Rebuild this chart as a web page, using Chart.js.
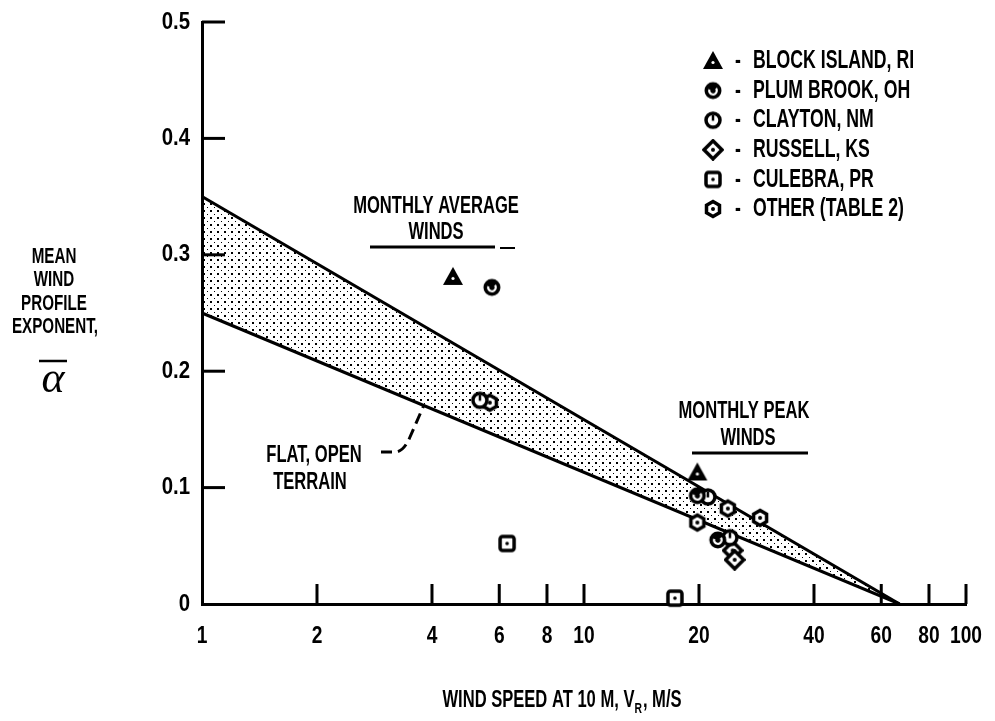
<!DOCTYPE html>
<html>
<head>
<meta charset="utf-8">
<script src="https://cdn.jsdelivr.net/npm/chart.js@4.4.1/dist/chart.umd.min.js"></script>
<style>
  html, body { margin: 0; padding: 0; background: #fff; }
  canvas { display: block; }
</style>
</head>
<body>
<canvas id="chart" width="995" height="721"></canvas>
<script>
// ---- data ----
const xTicks = [1, 2, 4, 6, 8, 10, 20, 40, 60, 80, 100];
const xTickLabels = ['1', '2', '4', '6', '8', '10', '20', '40', '60', '80', '100'];
const yTicks = [0, 0.1, 0.2, 0.3, 0.4, 0.5];
const yTickLabels = ['0', '0.1', '0.2', '0.3', '0.4', '0.5'];

// flat, open terrain band (alpha vs wind speed)
const bandX = [1, 67];
const bandUpper = [0.35, 0];
const bandLower = [0.25, 0];

const blockIslandX = [4.54, 19.8];
const blockIslandY = [0.281, 0.113];
const plumBrookX = [5.74, 19.8, 22.4];
const plumBrookY = [0.272, 0.093, 0.055];
const claytonX = [5.34, 21.1, 24.1];
const claytonY = [0.175, 0.092, 0.057];
const russellX = [24.5, 24.8];
const russellY = [0.046, 0.038];
const culebraX = [6.29, 17.3];
const culebraY = [0.052, 0.005];
const otherX = [5.67, 23.8, 28.9, 19.8];
const otherY = [0.173, 0.082, 0.074, 0.070];

const siteNames = ['BLOCK ISLAND, RI', 'PLUM BROOK, OH', 'CLAYTON, NM', 'RUSSELL, KS', 'CULEBRA, PR', 'OTHER (TABLE 2)'];
const siteMarkers = ['triangle', 'plum', 'clayton', 'russell', 'culebra', 'other'];

// ---- helpers ----
const pts = (xs, ys) => xs.map((x, i) => ({ x: x, y: ys[i] }));

function makeMarker(kind) {
    const s = 22, m = s / 2;
    const c = document.createElement('canvas');
    c.width = c.height = s;
    const g = c.getContext('2d');
    g.lineWidth = 3.5;
    g.strokeStyle = '#000';
    g.fillStyle = '#fff';
    const dot = (r) => { g.fillStyle = '#000'; g.beginPath(); g.arc(m, m, r, 0, Math.PI * 2); g.fill(); };
    if (kind === 'triangle') {
        g.fillStyle = '#000';
        g.beginPath(); g.moveTo(m, 1); g.lineTo(s - 1, s - 3); g.lineTo(1, s - 3); g.closePath(); g.fill();
        g.fillStyle = '#fff';
        g.beginPath(); g.arc(m, 12.5, 1.6, 0, Math.PI * 2); g.fill();
    } else if (kind === 'plum') {
        g.fillStyle = '#000';
        g.beginPath(); g.arc(m, m, 8.5, 0, Math.PI * 2); g.fill();
        g.strokeStyle = '#fff'; g.lineWidth = 2.2;
        g.beginPath(); g.arc(m, m, 3.8, -0.2 * Math.PI, 1.1 * Math.PI); g.stroke();
    } else if (kind === 'clayton') {
        g.beginPath(); g.arc(m, m, 7, 0, Math.PI * 2); g.fill(); g.stroke();
        g.lineWidth = 2.5;
        g.beginPath(); g.moveTo(m, m - 5); g.lineTo(m, m + 0.5); g.stroke();
    } else if (kind === 'russell') {
        g.beginPath(); g.moveTo(m, 2); g.lineTo(s - 2, m); g.lineTo(m, s - 2); g.lineTo(2, m); g.closePath();
        g.fill(); g.stroke();
        dot(2);
    } else if (kind === 'culebra') {
        g.beginPath(); g.roundRect(4, 4, s - 8, s - 8, 2.5); g.fill(); g.stroke();
        dot(1.8);
    } else {
        g.beginPath();
        for (let i = 0; i < 6; i++) {
            const a = Math.PI / 6 + i * Math.PI / 3;
            g.lineTo(m + 7.5 * Math.cos(a), m + 7.5 * Math.sin(a));
        }
        g.closePath(); g.fill(); g.stroke();
        dot(2);
    }
    return c;
}
const markers = {};
siteMarkers.forEach(k => markers[k] = makeMarker(k));

function stipple() {
    const c = document.createElement('canvas');
    c.width = c.height = 7;
    const g = c.getContext('2d');
    g.fillStyle = '#000';
    g.fillRect(0, 0, 2, 2);
    g.fillRect(4, 4, 1, 1);
    return g.createPattern(c, 'repeat');
}

const FONT = '"Liberation Sans", Arial, sans-serif';

// condensed typewriter-ish lettering
function txt(ctx, s, x, y, opt) {
    opt = opt || {};
    ctx.save();
    ctx.font = opt.font || ('bold ' + (opt.size || 24) + 'px ' + FONT);
    ctx.fillStyle = '#000';
    ctx.textBaseline = 'middle';
    ctx.textAlign = opt.align || 'center';
    ctx.translate(x, y);
    ctx.scale(opt.sx || 0.69, 1);
    ctx.fillText(s, 0, 0);
    ctx.restore();
}

function txtWidth(ctx, s, size, sx) {
    ctx.save();
    ctx.font = 'bold ' + size + 'px ' + FONT;
    const w = ctx.measureText(s).width * sx;
    ctx.restore();
    return w;
}

function hline(ctx, x1, x2, y, w) {
    ctx.beginPath(); ctx.moveTo(x1, y); ctx.lineTo(x2, y);
    ctx.lineWidth = w || 3; ctx.strokeStyle = '#000'; ctx.stroke();
}

// ticks, labels, legend and notes
const decorPlugin = {
    id: 'decor',
    afterDraw(chart) {
        const ctx = chart.ctx;
        const xs = chart.scales.x, ys = chart.scales.y;
        const area = chart.chartArea;

        ctx.save();
        ctx.strokeStyle = '#000';
        ctx.lineWidth = 3;
        // inward tick marks
        xTicks.forEach((v, i) => {
            const px = xs.getPixelForValue(v);
            if (i > 0) {
                ctx.beginPath(); ctx.moveTo(px, area.bottom); ctx.lineTo(px, area.bottom - 20); ctx.stroke();
            }
            txt(ctx, xTickLabels[i], px, area.bottom + 32, { sx: 0.8 });
        });
        yTicks.forEach((v, i) => {
            const py = ys.getPixelForValue(v);
            if (i > 0) hline(ctx, area.left, area.left + 23, py);
            txt(ctx, yTickLabels[i], area.left - 12, py, { sx: 0.85, align: 'right' });
        });

        // y title
        txt(ctx, 'MEAN', 54, 257, { size: 22 });
        txt(ctx, 'WIND', 54, 280, { size: 22 });
        txt(ctx, 'PROFILE', 54, 304, { size: 22 });
        txt(ctx, 'EXPONENT,', 55, 327, { size: 22 });
        txt(ctx, 'α', 53, 380, { font: 'italic 44px "Liberation Serif", serif', sx: 1 });
        hline(ctx, 39, 67, 361, 2.5);

        // x title with subscript R
        const runs = [['WIND SPEED AT 10 M, V', 24, 0], ['R', 15, 9], [', M/S', 24, 0]];
        const widths = runs.map(r => txtWidth(ctx, r[0], r[1], 0.69) + (r[0] === 'R' ? 1 : 0));
        let x0 = 562 - widths.reduce((a, b) => a + b, 0) / 2;
        runs.forEach((r, i) => {
            txt(ctx, r[0], x0, 700 + r[2], { size: r[1], align: 'left' });
            x0 += widths[i];
        });

        // legend
        siteNames.forEach((name, i) => {
            const ry = 61 + i * 29.6;
            ctx.drawImage(markers[siteMarkers[i]], 713 - 11, ry - 11);
            txt(ctx, '-', 738, ry, { size: 26, sx: 0.68 });
            txt(ctx, name, 753, ry, { size: 26, sx: 0.68, align: 'left' });
        });

        // notes
        txt(ctx, 'MONTHLY AVERAGE', 436, 206);
        txt(ctx, 'WINDS', 436, 232);
        hline(ctx, 370, 495, 247);
        hline(ctx, 500, 515, 248, 2);

        txt(ctx, 'MONTHLY PEAK', 744, 411);
        txt(ctx, 'WINDS', 748, 438);
        hline(ctx, 692, 808, 453);

        txt(ctx, 'FLAT, OPEN', 314, 455);
        txt(ctx, 'TERRAIN', 310, 482);
        ctx.setLineDash([11, 6]);
        ctx.lineWidth = 3;
        ctx.beginPath();
        ctx.moveTo(381, 452);
        ctx.lineTo(396, 452);
        ctx.quadraticCurveTo(404, 451, 410, 437);
        ctx.lineTo(424, 405);
        ctx.stroke();
        ctx.restore();
    }
};

const pointSet = (xs, ys, kind) => ({
    data: pts(xs, ys),
    pointStyle: markers[kind],
    pointRadius: 11,
    showLine: false,
    clip: false,
    order: 0
});

new Chart(document.getElementById('chart').getContext('2d'), {
    type: 'scatter',
    data: {
        datasets: [
            {
                data: pts(bandX, bandUpper),
                showLine: true, borderColor: '#000', borderWidth: 3,
                pointRadius: 0, fill: false, order: 5
            },
            {
                data: pts(bandX, bandLower),
                showLine: true, borderColor: '#000', borderWidth: 3,
                pointRadius: 0, fill: '-1', backgroundColor: stipple(), order: 4
            },
            pointSet(blockIslandX, blockIslandY, 'triangle'),
            pointSet(plumBrookX, plumBrookY, 'plum'),
            pointSet(claytonX, claytonY, 'clayton'),
            pointSet(russellX, russellY, 'russell'),
            pointSet(culebraX, culebraY, 'culebra'),
            pointSet(otherX, otherY, 'other')
        ]
    },
    options: {
        responsive: false,
        animation: false,
        layout: { padding: { top: 22, right: 29, left: 0, bottom: 0 } },
        plugins: { legend: { display: false }, tooltip: { enabled: false } },
        scales: {
            x: {
                type: 'logarithmic', min: 1, max: 100,
                ticks: { display: false },
                grid: { display: false },
                border: { display: true, color: '#000', width: 3 },
                afterFit(s) { s.height = 117; }
            },
            y: {
                min: 0, max: 0.5,
                ticks: { display: false },
                grid: { display: false },
                border: { display: true, color: '#000', width: 3 },
                afterFit(s) { s.width = 202; }
            }
        }
    },
    plugins: [decorPlugin]
});
</script>
</body>
</html>
